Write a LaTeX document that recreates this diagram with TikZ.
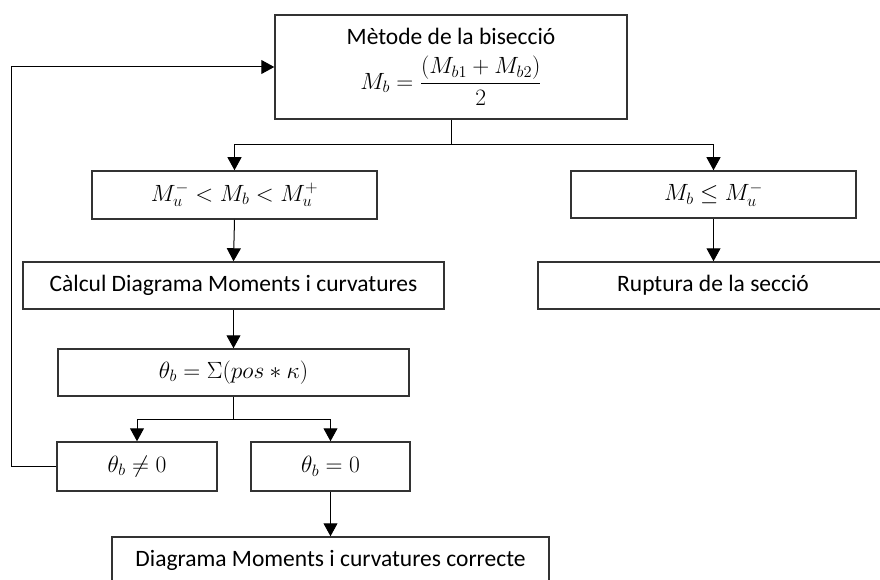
\RequirePackage{fix-cm}
\documentclass[tikz,border=0pt]{standalone}
\usepackage{amsmath}
\usepackage{fontspec}
\setmainfont{Carlito}
\usetikzlibrary{arrows.meta}
\begin{document}
\begin{tikzpicture}[x=1pt,y=-1pt,
  box/.style={draw=black!80, line width=1.5pt, fill=white, rectangle, inner sep=0pt, align=center, font=\fontsize{23.5}{28}\selectfont},
  conn/.style={draw=black, line width=1pt},
  arr/.style={conn, -{Triangle[length=13pt,width=14pt]}}]
\useasboundingbox (0,0) rectangle (880,580);
\begin{scope}
\clip (0,0) rectangle (880,580);
\node[box, minimum width=352pt, minimum height=104pt] (top) at (451,67) {Mètode de la bisecció\\[10pt] $M_b=\dfrac{(M_{b1}+M_{b2})}{2}$};
\node[box, minimum width=285pt, minimum height=48pt] (m2) at (234.5,195) {$M_u^- < M_b < M_u^+$};
\node[box, minimum width=421pt, minimum height=47pt] (m3) at (233.5,285.5) {Càlcul Diagrama Moments i curvatures};
\node[box, minimum width=351pt, minimum height=47pt] (m4) at (233.5,372.5) {$\theta_b=\Sigma(pos*\kappa)$};
\node[box, minimum width=160pt, minimum height=49pt] (m5) at (137,466.5) {$\theta_b\neq 0$};
\node[box, minimum width=159pt, minimum height=49pt] (m6) at (330.5,466.5) {$\theta_b=0$};
\node[box, minimum width=437pt, minimum height=47pt] (m7) at (330.5,560.5) {Diagrama Moments i curvatures correcte};
\node[box, minimum width=285pt, minimum height=47pt] (r1) at (713.5,194.5) {$M_b\leq M_u^-$};
\node[box, minimum width=350pt, minimum height=47pt] (r2) at (713,285.5) {Ruptura de la secció};
\end{scope}
\coordinate (j1) at (451,145);
\coordinate (j2) at (233.5,419);
\coordinate (fb) at (11,466.5);
\draw[conn] (top.south) -- (j1);
\draw[arr] (j1) -| (m2.north);
\draw[arr] (j1) -| (r1.north);
\draw[arr] (m2.south) -- (m3.north);
\draw[arr] (m3.south) -- (m4.north);
\draw[conn] (m4.south) -- (j2);
\draw[arr] (j2) -| (m5.north);
\draw[arr] (j2) -| (m6.north);
\draw[arr] (m6.south) -- (m7.north -| m6.south);
\draw[arr] (r1.south) -- (r1.south |- r2.north);
\draw[arr] (m5.west) -- (fb) |- (top.west);
\end{tikzpicture}
\end{document}
